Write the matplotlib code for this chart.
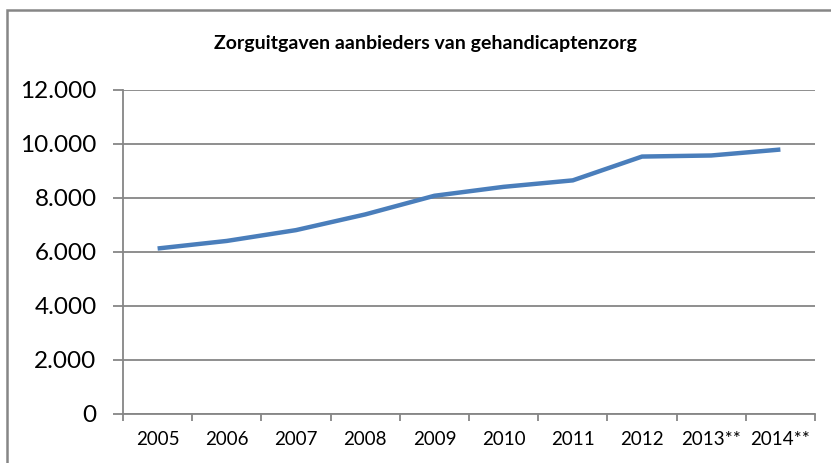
import matplotlib
matplotlib.use("Agg")
import matplotlib.pyplot as plt
from matplotlib.patches import Rectangle

years = ["2005", "2006", "2007", "2008", "2009", "2010", "2011", "2012", "2013**", "2014**"]
uitgaven = [6120, 6400, 6800, 7380, 8070, 8400, 8640, 9520, 9560, 9780]
yticks = [0, 2000, 4000, 6000, 8000, 10000, 12000]
ylabels = ["0", "2.000", "4.000", "6.000", "8.000", "10.000", "12.000"]

plt.rcParams['font.family'] = ['Lato', 'DejaVu Sans']

fig = plt.figure(figsize=(8.31, 4.63), dpi=100)
ax = fig.add_axes([123/831, 1 - 414/463, 692/831, (414 - 89.5)/463])

# outer chart border (runs off the image at the right and bottom)
fig.patches.append(Rectangle((7/831, -0.05), 1.1, 1 - 10/463 + 0.05,
                             transform=fig.transFigure, fill=False,
                             edgecolor="#868686", linewidth=1.8))

grey = "#868686"
x = range(len(years))
ax.plot(x, uitgaven, color="#4A7EBB", linewidth=3.2, solid_capstyle="butt", zorder=3)

ax.set_xlim(-0.5, len(years) - 0.5)
ax.set_ylim(0, 12000)
ax.set_yticks(yticks)
ax.set_yticklabels(ylabels, fontsize=17.5)
ax.set_xticks(x)
ax.set_xticklabels(years, fontsize=13.5)
ax.set_xticks([i - 0.5 for i in range(len(years) + 1)], minor=True)
ax.tick_params(axis="x", which="major", length=0, pad=12)
ax.tick_params(axis="x", which="minor", length=5, width=1.3, color=grey)
ax.tick_params(axis="y", length=7, width=1.3, color=grey, pad=12)

ax.grid(axis="y", color=grey, linewidth=1.3)
ax.set_axisbelow(True)
for s in ["top", "right"]:
    ax.spines[s].set_visible(False)
for s in ["left", "bottom"]:
    ax.spines[s].set_color(grey)
    ax.spines[s].set_linewidth(1.3)

fig.text(425/831, 1 - 44/463, "Zorguitgaven aanbieders van gehandicaptenzorg",
         ha="center", va="center", fontsize=14, fontweight="bold")

fig.savefig("out.png", dpi=100)
